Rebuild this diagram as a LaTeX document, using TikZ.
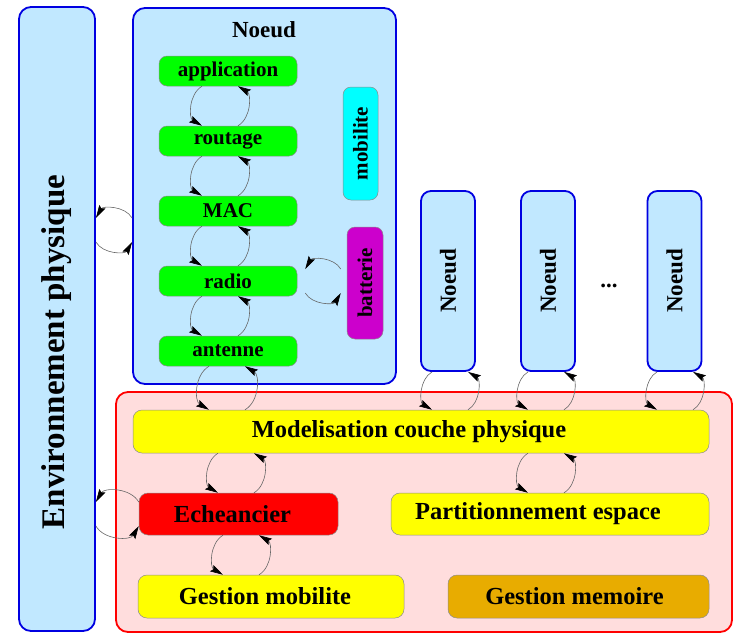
\documentclass[tikz,border=0pt]{standalone}
\usepackage{graphicx}
\usepackage{fontspec}
\setmainfont{Liberation Serif}
\usetikzlibrary{arrows.meta}

\definecolor{paleblue}{RGB}{193,232,255}
\definecolor{frameblue}{RGB}{0,0,225}
\definecolor{palepink}{RGB}{255,221,221}
\definecolor{layergreen}{RGB}{0,255,0}
\definecolor{layercyan}{RGB}{0,255,255}
\definecolor{layeryellow}{RGB}{255,255,0}
\definecolor{layergold}{RGB}{232,172,0}
\definecolor{layerpurple}{RGB}{204,0,204}

\tikzset{
  bluebox/.style={draw=frameblue, fill=paleblue, line width=1.8pt, rounded corners=12pt, inner sep=0pt},
  redbox/.style={draw=red, fill=palepink, line width=1.8pt, rounded corners=12pt, inner sep=0pt},
  layer/.style={draw=black!45, line width=0.5pt, rounded corners=8pt, inner sep=0pt,
    font=\bfseries\fontsize{21}{25}\selectfont},
  module/.style={draw=black!45, line width=0.5pt, rounded corners=9pt, inner sep=0pt,
    font=\bfseries\fontsize{24.5}{29}\selectfont},
  cyc/.style={draw=black!60, line width=0.6pt, -{Stealth[length=13pt,width=7pt,inset=2pt,color=black]}, bend right=60}
}

\begin{document}
\begin{tikzpicture}[x=1pt,y=-1pt]
  \useasboundingbox (0,0) rectangle (736,633);

  \node[bluebox, minimum width=76pt, minimum height=624pt, font=\bfseries\fontsize{33}{38}\selectfont]
    (env) at (57,319) {\rotatebox{90}{Environnement physique\hspace*{66pt}}};
  \node[bluebox, minimum width=263pt, minimum height=376pt] (noeud) at (264.5,196) {};
  \node[font=\bfseries\fontsize{23}{27}\selectfont] (titre) at (264,30) {Noeud};
  \node[redbox, minimum width=616pt, minimum height=240pt] (sim) at (424,512) {};

  \node[layer, fill=layergreen, minimum width=138pt, minimum height=30pt] (app) at (228,71) {application};
  \node[layer, fill=layergreen, minimum width=138pt, minimum height=30pt] (rout) at (228,141) {routage};
  \node[layer, fill=layergreen, minimum width=138pt, minimum height=30pt] (mac) at (228,211) {MAC};
  \node[layer, fill=layergreen, minimum width=138pt, minimum height=30pt] (radio) at (228,281) {radio};
  \node[layer, fill=layergreen, minimum width=138pt, minimum height=30pt] (ant) at (228,351) {antenne};
  \node[layer, fill=layercyan, minimum width=35pt, minimum height=113pt] (mob) at (360.5,143.5) {\rotatebox{90}{mobilite}};
  \node[layer, fill=layerpurple, minimum width=36pt, minimum height=112pt] (bat) at (365,283) {\rotatebox{90}{batterie}};

  \node[bluebox, rounded corners=10pt, minimum width=54pt, minimum height=180pt, font=\bfseries\fontsize{23}{27}\selectfont]
    (n1) at (448,281) {\rotatebox{90}{Noeud}};
  \node[bluebox, rounded corners=10pt, minimum width=54pt, minimum height=180pt, font=\bfseries\fontsize{23}{27}\selectfont]
    (n2) at (548,281) {\rotatebox{90}{Noeud}};
  \node[bluebox, rounded corners=10pt, minimum width=54pt, minimum height=180pt, font=\bfseries\fontsize{23}{27}\selectfont]
    (n3) at (674.5,281) {\rotatebox{90}{Noeud}};
  \node[font=\bfseries\fontsize{23}{27}\selectfont] (etc) at (609,286) {...};

  \node[module, fill=layeryellow, minimum width=576pt, minimum height=43pt] (mod) at (421,431.5) {Modelisation couche physique\hspace*{24pt}};
  \node[module, fill=red, minimum width=199pt, minimum height=42pt] (ech) at (238.5,514) {Echeancier\hspace*{12pt}};
  \node[module, fill=layeryellow, minimum width=318pt, minimum height=42pt] (part) at (550,514) {Partitionnement espace\hspace*{24pt}};
  \node[module, fill=layeryellow, minimum width=266pt, minimum height=43pt] (gmob) at (271,596.5) {Gestion mobilite\hspace*{12pt}};
  \node[module, fill=layergold, minimum width=261pt, minimum height=43pt] (gmem) at (578.5,596.5) {Gestion memoire\hspace*{8pt}};

  \draw[cyc] ([xshift=-26]app.south) to ([xshift=-26]rout.north);
  \draw[cyc] ([xshift=10]rout.north) to ([xshift=10]app.south);
  \draw[cyc] ([xshift=-26]rout.south) to ([xshift=-26]mac.north);
  \draw[cyc] ([xshift=10]mac.north) to ([xshift=10]rout.south);
  \draw[cyc] ([xshift=-26]mac.south) to ([xshift=-26]radio.north);
  \draw[cyc] ([xshift=10]radio.north) to ([xshift=10]mac.south);
  \draw[cyc] ([xshift=-26]radio.south) to ([xshift=-26]ant.north);
  \draw[cyc] ([xshift=10]ant.north) to ([xshift=10]radio.south);
  \draw[cyc] ([xshift=-19]ant.south) to ([xshift=-212]mod.north);
  \draw[cyc] ([xshift=-176]mod.north) to ([xshift=17]ant.south);

  \draw[cyc] ([xshift=-6,yshift=14]bat.west) to ([xshift=8,yshift=12]radio.east);
  \draw[cyc] ([xshift=8,yshift=-12]radio.east) to ([xshift=-6,yshift=-10]bat.west);
  \draw[cyc] ([yshift=-22]noeud.west) to ([yshift=101]env.east);
  \draw[cyc] ([yshift=77]env.east) to ([yshift=-46]noeud.west);
  \draw[cyc] ([yshift=12]ech.west) to ([yshift=-183]env.east);
  \draw[cyc] ([yshift=-207]env.east) to ([yshift=-12]ech.west);

  \draw[cyc] ([xshift=-16]n1.south) to ([xshift=11]mod.north);
  \draw[cyc] ([xshift=47]mod.north) to ([xshift=20]n1.south);
  \draw[cyc] ([xshift=-20]n2.south) to ([xshift=107]mod.north);
  \draw[cyc] ([xshift=143]mod.north) to ([xshift=16]n2.south);
  \draw[cyc] ([xshift=-17.5]n3.south) to ([xshift=236]mod.north);
  \draw[cyc] ([xshift=272]mod.north) to ([xshift=18.5]n3.south);

  \draw[cyc] ([xshift=-203]mod.south) to ([xshift=-20.5]ech.north);
  \draw[cyc] ([xshift=15.5]ech.north) to ([xshift=-167]mod.south);
  \draw[cyc] ([xshift=107]mod.south) to ([xshift=-22]part.north);
  \draw[cyc] ([xshift=14]part.north) to ([xshift=143]mod.south);
  \draw[cyc] ([xshift=-15.5]ech.south) to ([xshift=-48]gmob.north);
  \draw[cyc] ([xshift=-12]gmob.north) to ([xshift=20.5]ech.south);
\end{tikzpicture}
\end{document}
